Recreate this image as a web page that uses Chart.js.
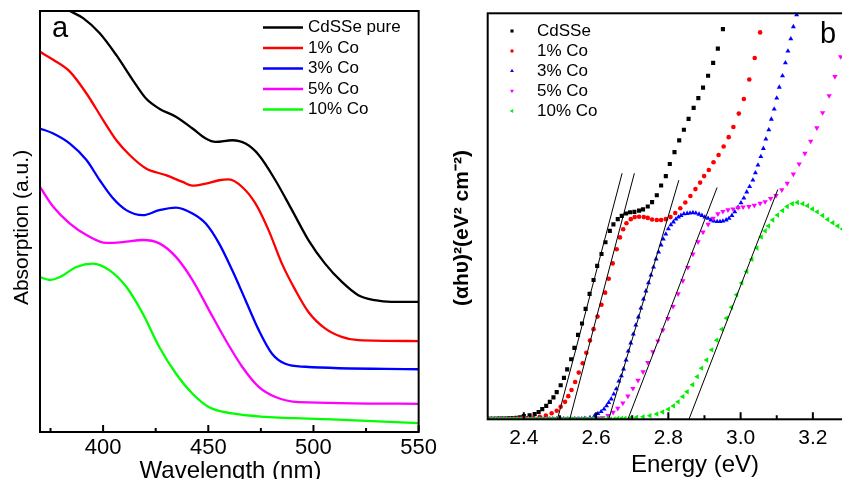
<!DOCTYPE html>
<html>
<head>
<meta charset="utf-8">
<title>CdSSe absorption and Tauc plot</title>
<script src="https://cdn.jsdelivr.net/npm/chart.js"></script>
<style>
  html, body { margin: 0; padding: 0; background: #fff; overflow: hidden; }
  body { width: 842px; height: 479px; position: relative; }
  #wrapA { position: absolute; left: 0; top: 0; width: 440px; height: 479px; }
  #wrapB { position: absolute; left: 435px; top: 0; width: 430px; height: 479px; }
</style>
</head>
<body>
<div id="wrapA"><canvas id="chartA" width="440" height="479"></canvas></div>
<div id="wrapB"><canvas id="chartB" width="430" height="479"></canvas></div>
<script>
var FONT = '"Liberation Sans", Arial, Helvetica, sans-serif'

// ---- panel a: absorption spectra (wavelength in nm, absorbance in a.u.) ----
var waveTicks = [400, 450, 500, 550]
var waveMinor = [375, 425, 475, 525]

var pureWl  = [370, 384.2, 390.5, 398.4, 406.3, 414.1, 420.4, 426.7, 434.6, 442.5, 448.8, 453.5, 461.4, 467.7, 474, 481.9, 489.8, 497.6, 505.5, 513.4, 521.3, 529.2, 537, 550]
var pureAbs = [104, 100, 98.3, 94.7, 89.5, 83.6, 79.2, 76.8, 74.9, 72.1, 69.7, 68.9, 69.3, 68.5, 65.8, 59.8, 52.7, 45.6, 40.0, 35.7, 32.5, 31.3, 30.9, 30.9]

var co1Wl  = [370, 376.3, 384.2, 392.1, 400, 406.3, 412.6, 420.4, 429.9, 437.8, 442.5, 448.8, 455.1, 459.8, 466.1, 472.4, 478.7, 485, 491.4, 497.6, 505.5, 513.4, 521.3, 550]
var co1Abs = [90.3, 88.4, 85.6, 80.4, 74.1, 69.3, 65.8, 62.6, 61.0, 59.4, 58.5, 59.0, 59.8, 60.0, 58.2, 54.3, 47.9, 40.0, 33.7, 28.5, 24.6, 22.6, 21.8, 21.6]

var co3Wl  = [370, 376.3, 384.2, 392.1, 398.4, 404.7, 411, 418.9, 426.7, 434.6, 442.5, 448.8, 455.1, 461.4, 467.7, 474, 480.3, 486.6, 496.1, 550]
var co3Abs = [72.1, 70.9, 68.5, 64.6, 59.8, 55.5, 52.7, 51.5, 52.7, 53.3, 51.9, 49.5, 44.8, 38.4, 31.3, 24.2, 18.6, 16.2, 15.5, 14.9]

var co5Wl  = [370, 376.3, 384.2, 392.1, 401.5, 411, 418.9, 426.7, 434.6, 442.5, 450.4, 458.3, 466.1, 474, 481.9, 492.9, 550]
var co5Abs = [58.2, 53.5, 49.5, 46.8, 44.9, 45.2, 45.6, 44.8, 41.6, 36.1, 28.9, 21.8, 15.5, 10.7, 8.3, 7.1, 6.7]

var co10Wl  = [370, 374.7, 379.5, 387.3, 395.2, 403.1, 411, 418.9, 426.7, 434.6, 442.5, 450.4, 461.4, 477.2, 508.7, 550]
var co10Abs = [36.8, 36.1, 36.8, 39.2, 40.0, 38.4, 34.5, 28.1, 20.2, 13.9, 9.1, 5.9, 4.4, 3.6, 3.0, 2.1]

// ---- panel b: (ahv)^2 versus photon energy ----
var energyTicks = [2.4, 2.6, 2.8, 3.0, 3.2]
var energyMinor = [2.5, 2.7, 2.9, 3.1]

var cdsseE = [2.30, 2.31, 2.32, 2.33, 2.34, 2.35, 2.36, 2.37, 2.38, 2.39,
  2.400, 2.416, 2.430, 2.441, 2.451, 2.462, 2.472, 2.482, 2.491, 2.502,
  2.511, 2.520, 2.531, 2.540, 2.550, 2.561, 2.571, 2.582, 2.593, 2.603,
  2.615, 2.626, 2.638, 2.648, 2.660, 2.671, 2.683, 2.694, 2.706, 2.719,
  2.730, 2.743, 2.755, 2.768, 2.780, 2.793, 2.804, 2.817, 2.830, 2.843,
  2.856, 2.870, 2.883, 2.896, 2.910, 2.924, 2.937, 2.951]
var cdsseY = [0.1, 0.1, 0.1, 0.2, 0.2, 0.2, 0.3, 0.3, 0.4, 0.5,
  0.8, 1.0, 1.3, 1.8, 2.5, 3.3, 4.3, 5.4, 6.7, 8.4,
  10.2, 12.3, 14.8, 17.6, 20.8, 23.6, 27.2, 30.9, 34.3, 37.8,
  40.7, 43.6, 46.4, 48.0, 49.3, 50.1, 50.7, 51.0, 51.1, 51.4,
  51.7, 52.4, 53.5, 55.2, 57.6, 59.9, 62.9, 65.8, 68.7, 71.3,
  74.0, 76.7, 79.1, 81.7, 84.6, 87.8, 91.3, 96.1]

var co1E = [2.30, 2.31, 2.32, 2.33, 2.34, 2.35, 2.36, 2.37, 2.38, 2.39, 2.40, 2.41,
  2.426, 2.444, 2.461, 2.477, 2.491, 2.502, 2.514, 2.523, 2.532, 2.542,
  2.552, 2.563, 2.573, 2.583, 2.593, 2.604, 2.615, 2.625, 2.635, 2.646,
  2.657, 2.666, 2.675, 2.684, 2.696, 2.707, 2.719, 2.732, 2.743, 2.755,
  2.768, 2.780, 2.793, 2.806, 2.819, 2.833, 2.847, 2.861, 2.875, 2.888,
  2.899, 2.912, 2.925, 2.939, 2.953, 2.967, 2.980, 2.995, 3.009, 3.024,
  3.039, 3.054]
var co1Y = [0.1, 0.1, 0.1, 0.1, 0.1, 0.1, 0.2, 0.2, 0.2, 0.2, 0.3, 0.3,
  0.4, 0.6, 0.9, 1.5, 2.1, 3.1, 4.3, 5.7, 7.2, 9.2,
  11.5, 13.8, 16.4, 19.4, 22.2, 25.3, 28.2, 31.2, 34.6, 38.4,
  41.9, 44.8, 46.8, 48.3, 49.3, 49.8, 49.9, 49.8, 49.6, 49.2,
  49.1, 49.1, 49.3, 49.8, 50.8, 52.0, 53.4, 55.0, 56.7, 58.3,
  59.9, 61.4, 63.3, 65.1, 67.2, 69.5, 72.0, 75.3, 78.9, 83.7,
  89.0, 95.3]

var co3E = [2.30, 2.31, 2.32, 2.33, 2.34, 2.35, 2.36, 2.37, 2.38, 2.39,
  2.40, 2.41, 2.42, 2.43, 2.44, 2.45, 2.46, 2.47, 2.48, 2.49,
  2.50, 2.51, 2.52, 2.53, 2.54, 2.55, 2.56,
  2.569, 2.583, 2.596, 2.605, 2.614, 2.622, 2.629, 2.635, 2.642, 2.649,
  2.656, 2.663, 2.670, 2.676, 2.683, 2.689, 2.696, 2.703, 2.710, 2.717,
  2.724, 2.731, 2.738, 2.745, 2.752, 2.759, 2.766, 2.773, 2.780, 2.786,
  2.793, 2.800, 2.807, 2.814, 2.821, 2.828, 2.835, 2.843, 2.852, 2.860,
  2.868, 2.876, 2.885, 2.893, 2.901, 2.910, 2.918, 2.926, 2.935, 2.943,
  2.951, 2.960, 2.968, 2.976, 2.984, 2.993, 3.001, 3.009, 3.017, 3.025,
  3.034, 3.041, 3.048, 3.056, 3.063, 3.070, 3.078, 3.085, 3.093, 3.100,
  3.107, 3.116, 3.124, 3.131, 3.139, 3.146, 3.155]
var co3Y = [0.1, 0.1, 0.1, 0.1, 0.1, 0.1, 0.1, 0.1, 0.1, 0.1,
  0.1, 0.1, 0.1, 0.1, 0.1, 0.1, 0.1, 0.1, 0.1, 0.1,
  0.1, 0.1, 0.1, 0.1, 0.1, 0.1, 0.1,
  0.2, 0.4, 0.9, 1.4, 1.9, 2.5, 3.3, 4.1, 5.0, 6.2,
  7.5, 9.4, 10.7, 12.4, 14.6, 16.8, 18.8, 21.0, 23.2, 25.2,
  27.4, 29.6, 31.6, 33.6, 35.5, 37.5, 39.5, 41.2, 42.9, 44.4,
  45.6, 46.9, 47.9, 48.6, 49.3, 49.8, 50.2, 50.6, 50.7, 50.8,
  50.9, 50.8, 50.5, 50.2, 49.8, 49.5, 49.1, 48.8, 48.7, 48.7,
  48.8, 49.1, 49.5, 50.2, 51.1, 52.2, 53.3, 54.5, 56.0, 57.3,
  58.9, 60.7, 62.6, 64.7, 66.7, 69.0, 71.3, 73.9, 76.4, 79.1,
  81.8, 84.6, 87.8, 90.7, 93.7, 96.7, 99.6]

var co5E = [2.30, 2.31, 2.32, 2.33, 2.34, 2.35, 2.36, 2.37, 2.38, 2.39,
  2.40, 2.41, 2.42, 2.43, 2.44, 2.45, 2.46, 2.47, 2.48, 2.49,
  2.50, 2.51, 2.52, 2.53, 2.54, 2.55, 2.56, 2.57, 2.58, 2.59, 2.60, 2.61,
  2.619, 2.633, 2.647, 2.660, 2.674, 2.688, 2.702, 2.716, 2.730, 2.743,
  2.757, 2.771, 2.785, 2.799, 2.813, 2.827, 2.840, 2.854, 2.868, 2.882,
  2.896, 2.910, 2.924, 2.937, 2.951, 2.965, 2.979, 2.993, 3.007, 3.023,
  3.038, 3.054, 3.068, 3.083, 3.098, 3.114, 3.129, 3.146, 3.162, 3.178,
  3.194, 3.211, 3.227, 3.245, 3.261, 3.277]
var co5Y = [0.1, 0.1, 0.1, 0.1, 0.1, 0.1, 0.1, 0.1, 0.1, 0.1,
  0.1, 0.1, 0.1, 0.1, 0.1, 0.1, 0.1, 0.1, 0.1, 0.1,
  0.1, 0.1, 0.1, 0.1, 0.1, 0.1, 0.1, 0.1, 0.1, 0.2, 0.2, 0.3,
  0.4, 0.9, 1.7, 2.7, 4.0, 5.7, 7.6, 9.6, 11.7, 14.0,
  16.6, 19.3, 22.0, 24.8, 27.8, 30.9, 34.1, 37.4, 40.7, 43.7,
  46.1, 48.0, 49.5, 50.6, 51.2, 51.6, 51.8, 52.1, 52.3, 52.4,
  52.7, 53.2, 53.6, 54.4, 55.1, 56.5, 58.1, 60.4, 62.9, 65.5,
  68.5, 71.8, 75.5, 79.7, 84.4, 89.3]

var co10E = [2.30, 2.31, 2.32, 2.33, 2.34, 2.35, 2.36, 2.37, 2.38, 2.39,
  2.40, 2.41, 2.42, 2.43, 2.44, 2.45, 2.46, 2.47, 2.48, 2.49,
  2.50, 2.51, 2.52, 2.53, 2.54, 2.55, 2.56, 2.57, 2.58, 2.59,
  2.60, 2.61, 2.62, 2.63, 2.64, 2.65, 2.66, 2.67, 2.68,
  2.694, 2.712, 2.730, 2.749, 2.768, 2.784, 2.800, 2.814, 2.827, 2.840,
  2.852, 2.867, 2.880, 2.892, 2.906, 2.920, 2.934, 2.948, 2.961, 2.975,
  2.989, 3.003, 3.017, 3.031, 3.045, 3.057, 3.068, 3.077, 3.089, 3.102,
  3.116, 3.129, 3.143, 3.157, 3.172, 3.185, 3.199, 3.212, 3.227, 3.241,
  3.255, 3.269, 3.282]
var co10Y = [0.1, 0.1, 0.1, 0.1, 0.1, 0.1, 0.1, 0.1, 0.1, 0.1,
  0.1, 0.1, 0.1, 0.1, 0.1, 0.1, 0.1, 0.1, 0.1, 0.1,
  0.1, 0.1, 0.1, 0.1, 0.1, 0.1, 0.1, 0.1, 0.1, 0.1,
  0.1, 0.1, 0.1, 0.1, 0.1, 0.1, 0.2, 0.2, 0.2,
  0.3, 0.5, 0.6, 0.9, 1.3, 1.8, 2.5, 3.3, 4.3, 5.6,
  6.8, 8.5, 10.5, 12.6, 14.6, 17.1, 19.5, 22.2, 24.9, 27.6,
  30.7, 33.6, 36.4, 39.4, 42.2, 44.9, 46.4, 47.6, 49.1, 50.3,
  51.4, 52.4, 53.1, 53.4, 53.1, 52.6, 51.8, 51.1, 50.2, 49.2,
  48.4, 47.6, 46.9]

// linear fits of the absorption edges (start and end point of each line)
var fitE = [[2.493, 2.672], [2.527, 2.706], [2.635, 2.829], [2.688, 2.935], [2.857, 3.103]]
var fitY = [[0, 60.6], [0, 60.6], [0, 58.9], [0, 57.1], [0, 56.6]]

function pts(xs, ys) {
    return xs.map(function (x, i) { return { x: x, y: ys[i] } })
}

function lineSeries(label, xs, ys, color) {
    return {
        label: label, data: pts(xs, ys), borderColor: color, backgroundColor: color,
        borderWidth: 2.3, pointRadius: 0, fill: false, cubicInterpolationMode: 'monotone'
    }
}

function dotSeries(label, xs, ys, color, style, radius, rotation, order) {
    return {
        label: label, data: pts(xs, ys), showLine: false, order: order,
        pointStyle: style, pointRadius: radius, pointRotation: rotation,
        pointBackgroundColor: color, pointBorderColor: color, pointBorderWidth: 0,
        backgroundColor: color, borderColor: color
    }
}

// legend symbols are a bit smaller than the plotted markers
function drawMarker(ctx, ds, x, y) {
    ctx.fillStyle = ds.pointBackgroundColor
    var opts = { pointStyle: ds.pointStyle, radius: ds.pointRadius * 0.75, rotation: ds.pointRotation, borderWidth: 0 }
    if (Chart.helpers && Chart.helpers.drawPoint) {
        ctx.beginPath()
        Chart.helpers.drawPoint(ctx, opts, x, y)
    } else {
        ctx.fillRect(x - 1.5, y - 1.5, 3, 3)
    }
}

// frame, inward ticks, axis titles, panel letter and legend
function deco(cfg) {
    return {
        id: 'deco',
        afterDraw: function (chart) {
            var ctx = chart.ctx, a = chart.chartArea, xs = chart.scales.x
            ctx.save()
            ctx.strokeStyle = '#000'
            ctx.lineWidth = 2
            ctx.strokeRect(a.left, a.top, a.right - a.left, a.bottom - a.top)

            ctx.beginPath()
            cfg.major.forEach(function (v) {
                var x = xs.getPixelForValue(v)
                ctx.moveTo(x, a.bottom); ctx.lineTo(x, a.bottom - 7)
            })
            cfg.minor.forEach(function (v) {
                var x = xs.getPixelForValue(v)
                ctx.moveTo(x, a.bottom); ctx.lineTo(x, a.bottom - 4)
            })
            ctx.stroke()

            ctx.fillStyle = '#000'
            ctx.textAlign = 'center'
            ctx.textBaseline = 'middle'
            ctx.font = cfg.xTitleFont
            ctx.fillText(cfg.xTitle, cfg.xTitleX, cfg.xTitleY)

            ctx.save()
            ctx.translate(cfg.yTitleX, cfg.yTitleY)
            ctx.rotate(-Math.PI / 2)
            ctx.font = cfg.yTitleFont
            ctx.fillText(cfg.yTitle, 0, 0)
            ctx.restore()

            ctx.textAlign = 'left'
            ctx.textBaseline = 'alphabetic'
            ctx.font = '29px ' + FONT
            ctx.fillText(cfg.tag, cfg.tagX, cfg.tagY)

            ctx.textBaseline = 'middle'
            ctx.font = '17px ' + FONT
            cfg.legend(chart, ctx)
            ctx.restore()
        }
    }
}

var chartA = new Chart(document.getElementById('chartA'), {
    type: 'line',
    data: {
        datasets: [
            lineSeries('CdSSe pure', pureWl, pureAbs, '#000000'),
            lineSeries('1% Co', co1Wl, co1Abs, '#ff0000'),
            lineSeries('3% Co', co3Wl, co3Abs, '#0000ff'),
            lineSeries('5% Co', co5Wl, co5Abs, '#ff00ff'),
            lineSeries('10% Co', co10Wl, co10Abs, '#00ff00')
        ]
    },
    options: {
        responsive: false,
        animation: false,
        devicePixelRatio: 1,
        layout: { padding: { left: 40, top: 11, right: 19, bottom: 0 } },
        plugins: { legend: { display: false }, tooltip: { enabled: false } },
        scales: {
            x: {
                type: 'linear', min: 370, max: 550,
                grid: { display: false, drawTicks: false }, border: { display: false },
                afterBuildTicks: function (s) { s.ticks = waveTicks.map(function (v) { return { value: v } }) },
                afterFit: function (s) { s.height = 47 },
                ticks: { color: '#000', padding: 3, autoSkip: false, maxRotation: 0, font: { family: FONT, size: 22 } }
            },
            y: { display: false, min: 0, max: 100 }
        }
    },
    plugins: [deco({
        major: waveTicks, minor: waveMinor,
        xTitle: 'Wavelength (nm)', xTitleFont: '24px ' + FONT, xTitleX: 230.5, xTitleY: 471,
        yTitle: 'Absorption (a.u.)', yTitleFont: '21px ' + FONT, yTitleX: 22, yTitleY: 227.5,
        tag: 'a', tagX: 52, tagY: 36.5,
        legend: function (chart, ctx) {
            chart.data.datasets.forEach(function (ds, i) {
                var y = 27.5 + i * 20.5
                ctx.strokeStyle = ds.borderColor
                ctx.lineWidth = 2.3
                ctx.beginPath(); ctx.moveTo(263, y); ctx.lineTo(303, y); ctx.stroke()
                ctx.fillStyle = '#000'
                ctx.fillText(ds.label, 308, y)
            })
        }
    })]
})

var fitLines = fitE.map(function (e, i) {
    return {
        label: '', data: pts(e, fitY[i]), showLine: true, order: 0,
        borderColor: '#000', borderWidth: 1, pointRadius: 0, fill: false
    }
})

var chartB = new Chart(document.getElementById('chartB'), {
    type: 'scatter',
    data: {
        datasets: [
            dotSeries('CdSSe', cdsseE, cdsseY, '#000000', 'rect', 2.9, 0, 5),
            dotSeries('1% Co', co1E, co1Y, '#ff0000', 'circle', 2.3, 0, 4),
            dotSeries('3% Co', co3E, co3Y, '#0000ff', 'triangle', 2.9, 0, 3),
            dotSeries('5% Co', co5E, co5Y, '#ff00ff', 'triangle', 3.1, 180, 2),
            dotSeries('10% Co', co10E, co10Y, '#00ee00', 'triangle', 3.1, 270, 1)
        ].concat(fitLines)
    },
    options: {
        responsive: false,
        animation: false,
        devicePixelRatio: 1,
        layout: { padding: { left: 52.7, top: 13.3, right: 16, bottom: 0 } },
        plugins: { legend: { display: false }, tooltip: { enabled: false } },
        scales: {
            x: {
                type: 'linear', min: 2.3, max: 3.3,
                grid: { display: false, drawTicks: false }, border: { display: false },
                afterBuildTicks: function (s) { s.ticks = energyTicks.map(function (v) { return { value: v } }) },
                afterFit: function (s) { s.height = 59.7 },
                ticks: {
                    color: '#000', padding: 6.5, autoSkip: false, maxRotation: 0, font: { family: FONT, size: 21 },
                    callback: function (v) { return Number(v).toFixed(1) }
                }
            },
            y: { display: false, min: 0, max: 100 }
        }
    },
    plugins: [deco({
        major: energyTicks, minor: energyMinor,
        xTitle: 'Energy (eV)', xTitleFont: '24px ' + FONT, xTitleX: 260, xTitleY: 465,
        yTitle: '(\u03b1h\u03c5)\u00b2(eV\u00b2 cm\u207b\u00b2)', yTitleFont: 'bold 21px ' + FONT, yTitleX: 27, yTitleY: 228,
        tag: 'b', tagX: 385, tagY: 43,
        legend: function (chart, ctx) {
            chart.data.datasets.filter(function (ds) { return ds.label }).forEach(function (ds, i) {
                var y = 31 + i * 20
                drawMarker(ctx, ds, 77, y)
                ctx.fillStyle = '#000'
                ctx.fillText(ds.label, 102, y)
            })
        }
    })]
})
</script>
</body>
</html>
